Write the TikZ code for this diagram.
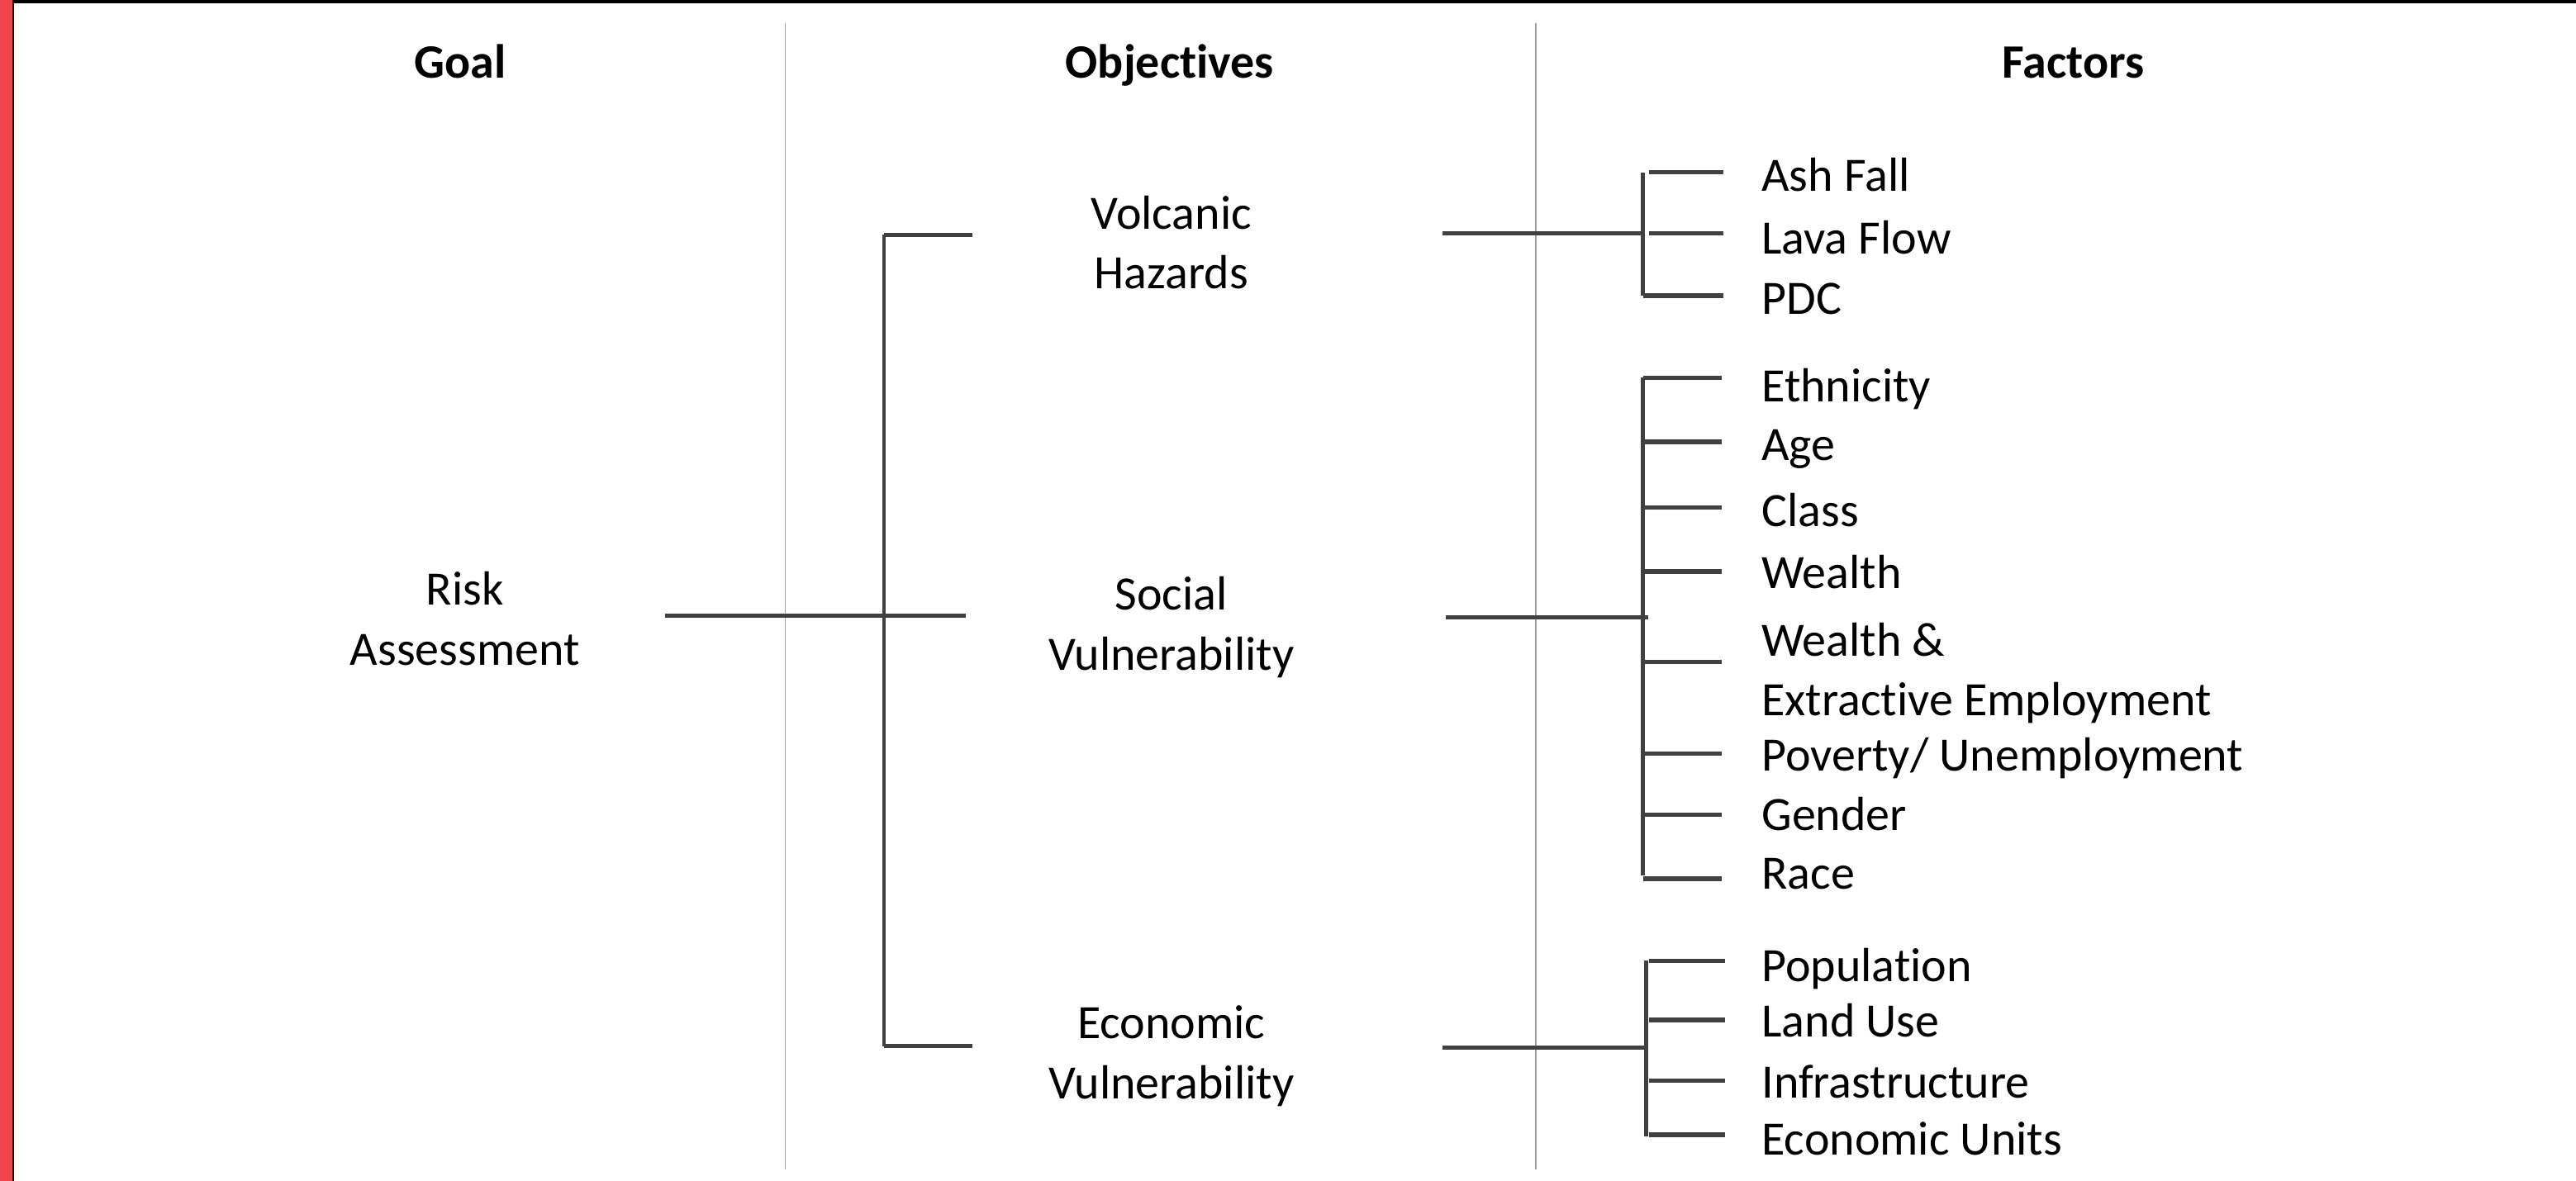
\documentclass[tikz,border=0pt]{standalone}
\usepackage{fontspec}
\setmainfont{Carlito}[Ligatures=NoCommon]
\definecolor{redbar}{HTML}{F0434A}
\definecolor{linegray}{HTML}{404040}
\definecolor{sepgray}{HTML}{A0A0A0}
\begin{document}
\begin{tikzpicture}[x=0.019885cm,y=-0.019885cm,
  font=\fontsize{16.5}{20.6}\selectfont,
  conn/.style={draw=linegray, line width=1.5pt},
  bracket/.style={draw=linegray, line width=1.2pt},
  sep/.style={draw=sepgray, line width=0.5pt},
  head/.style={font=\fontsize{16.5}{20.6}\selectfont\bfseries, anchor=base, inner sep=0pt},
  obj/.style={align=center, anchor=center, inner sep=0pt},
  fac/.style={anchor=base west, inner sep=0pt}]
% canvas
\fill[white] (0,0) rectangle (1568,719);
\useasboundingbox (0,0) rectangle (1568,719);
\fill[black] (0,0) rectangle (1568,1.8);
\fill[redbar] (0,0) rectangle (7.6,719);
\draw[black, line width=0.8pt] (8.0,0) -- (8.0,719);
% separators
\coordinate (s1t) at (478,14); \coordinate (s1b) at (478,712);
\coordinate (s2t) at (935,14); \coordinate (s2b) at (935,712);
\draw[sep] (s1t) -- (s1b);
\draw[sep] (s2t) -- (s2b);
% headers
\node[head] (hgoal) at (280,47.5) {Goal};
\node[head] (hobj) at (712,47.5) {Objectives};
\node[head] (hfac) at (1262,47.5) {Factors};
% goal and objectives
\node[obj] (goal) at (283,379.5) {\strut Risk\\\strut Assessment};
\node[obj] (volc) at (713,150.5) {\strut Volcanic\\\strut Hazards};
\node[obj] (soc) at (713,382.5) {\strut Social\\\strut Vulnerability};
\node[obj] (eco) at (713,643.5) {\strut Economic\\\strut Vulnerability};
% factors
\node[fac] (f1) at (1072,116.5) {Ash Fall};
\node[fac] (f2) at (1072,154.5) {Lava Flow};
\node[fac] (f3) at (1072,191.5) {PDC};
\node[fac] (f4) at (1072,244.5) {Ethnicity};
\node[fac] (f5) at (1072,280.5) {Age};
\node[fac] (f6) at (1072,320.5) {Class};
\node[fac] (f7) at (1072,358.5) {Wealth};
\node[fac] (f8) at (1072,399.5) {Wealth \&};
\node[fac] (f8b) at (1072,435.5) {Extractive Employment};
\node[fac] (f9) at (1072,469.5) {Poverty/ Unemployment};
\node[fac] (f10) at (1072,505.5) {Gender};
\node[fac] (f11) at (1072,541.5) {Race};
\node[fac] (f12) at (1072,597.5) {Population};
\node[fac] (f13) at (1072,631.5) {Land Use};
\node[fac] (f14) at (1072,668.5) {Infrastructure};
\node[fac] (f15) at (1072,703.5) {Economic Units};
% goal -> objectives bracket
\coordinate (gA) at (405,375); \coordinate (gB) at (588,375);
\coordinate (bT) at (538,143); \coordinate (bB) at (538,637);
\coordinate (bTe) at (592,143); \coordinate (bBe) at (592,637);
\draw[conn] (gA) -- (gB);
\draw[bracket] (bT) -- (bB);
\draw[conn] (bT) -- (bTe);
\draw[conn] (bB) -- (bBe);
% volcanic hazards bracket
\coordinate (vA) at (878,142); \coordinate (vB) at (1000,142);
\draw[conn] (vA) -- (vB);
\draw[bracket] (1000,105) -- (1000,180);
\draw[conn] (1004,105) -- (1049,105);
\draw[conn] (1004,142) -- (1049,142);
\draw[conn] (1000,180) -- (1049,180);
% social bracket
\coordinate (sA) at (880,376); \coordinate (sB) at (1003,376);
\draw[conn] (sA) -- (sB);
\draw[bracket] (1000,230) -- (1000,533);
\foreach \y in {230,269,309,348,403,459,496,535}
  \draw[conn] (1000,\y) -- (1048,\y);
% economic bracket
\coordinate (eA) at (878,638); \coordinate (eB) at (1003,638);
\draw[conn] (eA) -- (eB);
\draw[bracket] (1002,585) -- (1002,692);
\foreach \y in {585,621,658,691}
  \draw[conn] (1004,\y) -- (1050,\y);
\end{tikzpicture}
\end{document}
